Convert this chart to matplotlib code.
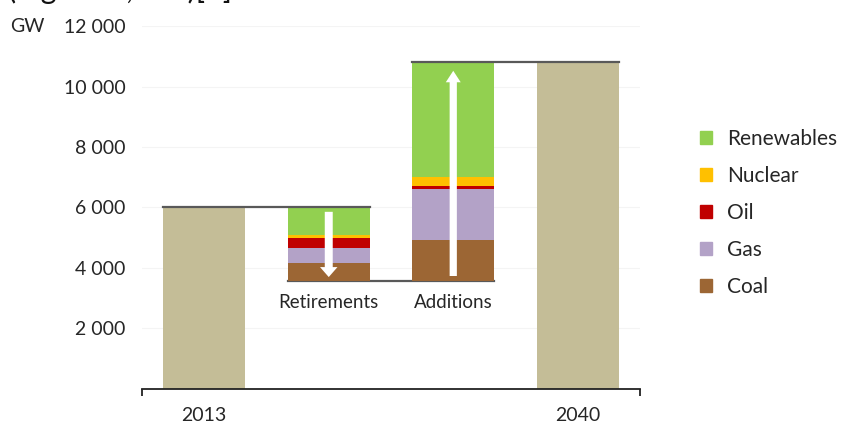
import numpy as np
import matplotlib
matplotlib.use('Agg')
import matplotlib.pyplot as plt
from matplotlib.patches import Patch, FancyArrow

plt.rcParams['font.family'] = ['Lato', 'DejaVu Sans']

# capacity in GW
categories = ['2013', 'Retirements', 'Additions', '2040']
total_2013 = 6000
total_2040 = 10800
sources = ['Coal', 'Gas', 'Oil', 'Nuclear', 'Renewables']
retirements = [590, 500, 330, 90, 930]
additions = [1360, 1690, 80, 310, 3800]
yticks = [2000, 4000, 6000, 8000, 10000, 12000]
ytick_labels = ['2 000', '4 000', '6 000', '8 000', '10 000', '12 000']

colors = {'Coal': '#9c6634', 'Gas': '#b3a2c7', 'Oil': '#c00000',
          'Nuclear': '#ffc000', 'Renewables': '#92d050'}
tan = '#c4bd97'
line_col = '#595959'
txt_col = '#262626'
W = 0.66

fig = plt.figure(figsize=(8.43, 4.23), dpi=100)
ax = fig.add_axes([142/843, 34.5/423, 498/843, 362.4/423])

x = np.arange(len(categories))
base = total_2013 - sum(retirements)

# end bars
ax.bar([x[0], x[3]], [total_2013, total_2040], width=W, color=tan, zorder=2)

# retirements stacked down from the 2013 level
bottom = base
for s, v in zip(sources, retirements):
    ax.bar(x[1], v, W, bottom=bottom, color=colors[s], zorder=2)
    bottom += v

# additions stacked up from the remaining capacity
bottom = base
for s, v in zip(sources, additions):
    ax.bar(x[2], v, W, bottom=bottom, color=colors[s], zorder=2)
    bottom += v

# connector lines between the steps
ax.plot([x[0]-W/2, x[1]+W/2], [total_2013]*2, color=line_col, lw=1.6, zorder=3)
ax.plot([x[1]-W/2, x[2]+W/2], [base]*2, color=line_col, lw=1.6, zorder=1)
ax.plot([x[2]-W/2, x[3]+W/2], [total_2040]*2, color=line_col, lw=1.6, zorder=3)

# white direction arrows
ax.add_patch(FancyArrow(x[1], total_2013 - 150, 0, -(total_2013 - 150 - base - 130),
                        width=0.064, head_width=0.14, head_length=330,
                        length_includes_head=True, color='white', zorder=4, lw=0))
ax.add_patch(FancyArrow(x[2], base + 165, 0, total_2040 - 280 - base - 165,
                        width=0.058, head_width=0.12, head_length=380,
                        length_includes_head=True, color='white', zorder=4, lw=0))

ax.text(x[1], base - 720, 'Retirements', ha='center', va='center', fontsize=13.5, color=txt_col)
ax.text(x[2], base - 720, 'Additions', ha='center', va='center', fontsize=13.5, color=txt_col)

ax.set_xlim(-0.5, 3.5)
ax.set_ylim(0, 12000)
ax.set_yticks(yticks)
ax.set_yticklabels(ytick_labels, fontsize=14, color=txt_col)
ax.set_xticks([x[0], x[3]])
ax.set_xticklabels([categories[0], categories[3]], fontsize=14, color=txt_col)
ax.set_xticks([-0.5, 3.5], minor=True)
ax.tick_params(axis='x', which='major', length=0, pad=13)
ax.tick_params(axis='x', which='minor', length=5, width=1.3, color='#222222')
ax.tick_params(axis='y', length=0, pad=12)
ax.grid(axis='y', color='#f4f4f4', lw=0.8, zorder=0)
for side in ['top', 'right', 'left']:
    ax.spines[side].set_visible(False)
ax.spines['bottom'].set_color('#222222')
ax.spines['bottom'].set_linewidth(1.3)

fig.text(10/843, 1 - 26/423, 'GW', fontsize=14, va='center', ha='left', color=txt_col)
# caption line running off the top edge
fig.text(8/843, 1 + 1/423, '(Figure 8, IEA)[1]', fontsize=22, va='baseline',
         ha='left', color='#111111')

handles = [Patch(color=colors[s], label=s) for s in sources[::-1]]
fig.legend(handles=handles, loc='upper left', bbox_to_anchor=(681/843, 1 - 110/423),
           frameon=False, fontsize=15, handlelength=0.6, handleheight=0.6,
           handletextpad=0.72, labelspacing=0.82, labelcolor=txt_col)

fig.savefig('out.png', dpi=100)
